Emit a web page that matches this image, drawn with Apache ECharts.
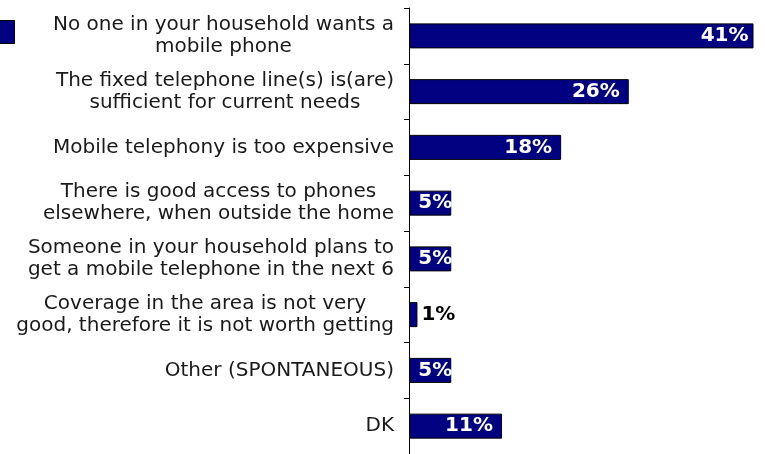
<!DOCTYPE html>
<html>
<head>
<meta charset="utf-8">
<script src="https://cdn.jsdelivr.net/npm/echarts@6/dist/echarts.min.js"></script>
<style>
  html, body { margin: 0; padding: 0; background: #ffffff; }
  #chart { width: 765px; height: 454px; }
</style>
</head>
<body>
<div id="chart"></div>
<script>
// Reasons for not having a mobile phone in the household (% of respondents)
const categories = [
  'No one in your household wants a\nmobile phone',
  'The fixed telephone line(s) is(are)\nsufficient for current needs',
  'Mobile telephony is too expensive',
  'There is good access to phones\nelsewhere, when outside the home',
  'Someone in your household plans to\nget a mobile telephone in the next 6',
  'Coverage in the area is not very\ngood, therefore it is not worth getting',
  'Other (SPONTANEOUS)',
  'DK'
];
const values = [41, 26, 18, 5, 5, 1, 5, 11];
const seriesName = 'Reasons';

const NAVY = '#000080';

// label placement: tiny bars get the value outside, short bars flush to the end
function labelFor(v) {
  if (v < 3) {
    return { position: 'right', color: '#000000', distance: 4 };
  }
  if (v < 8) {
    return { position: 'insideRight', color: '#ffffff', distance: -1 };
  }
  return { position: 'insideRight', color: '#ffffff', distance: v > 30 ? 5 : 9 };
}

const barData = values.map(v => ({ value: v, label: labelFor(v) }));

const chart = echarts.init(document.getElementById('chart'), null, { renderer: 'canvas' });

chart.setOption({
  animation: false,
  backgroundColor: '#ffffff',
  legend: {
    show: true,
    data: [{ name: seriesName, icon: 'rect' }],
    left: -17,
    top: 15,
    itemWidth: 26,
    itemHeight: 23,
    itemGap: 0,
    formatter: () => '',
    selectedMode: false,
    itemStyle: { borderColor: '#000000', borderWidth: 1 }
  },
  grid: {
    left: 409,
    top: 8,
    width: 344,
    height: 450,
    containLabel: false
  },
  xAxis: {
    type: 'value',
    min: 0,
    max: 40.7,
    show: false
  },
  yAxis: {
    type: 'category',
    data: categories,
    inverse: true,
    axisLine: { show: true, lineStyle: { color: '#000000', width: 1 } },
    axisTick: { show: true, length: 5, lineStyle: { color: '#000000' } },
    axisLabel: {
      margin: 15,
      color: '#1a1a1a',
      fontFamily: 'DejaVu Sans',
      fontSize: 20,
      lineHeight: 22,
      formatter: function (val) {
        return val.split('\n').map(s => '{c|' + s + '}').join('\n');
      },
      rich: {
        c: {
          align: 'center',
          color: '#1a1a1a',
          fontFamily: 'DejaVu Sans',
          fontSize: 20,
          lineHeight: 22
        }
      }
    },
    splitLine: { show: false }
  },
  series: [{
    name: seriesName,
    type: 'bar',
    data: barData,
    barWidth: 25,
    itemStyle: { color: NAVY, borderColor: '#000000', borderWidth: 1 },
    label: {
      show: true,
      formatter: '{c}%',
      fontFamily: 'DejaVu Sans',
      fontWeight: 'bold',
      fontSize: 20
    }
  }]
});
</script>
</body>
</html>
